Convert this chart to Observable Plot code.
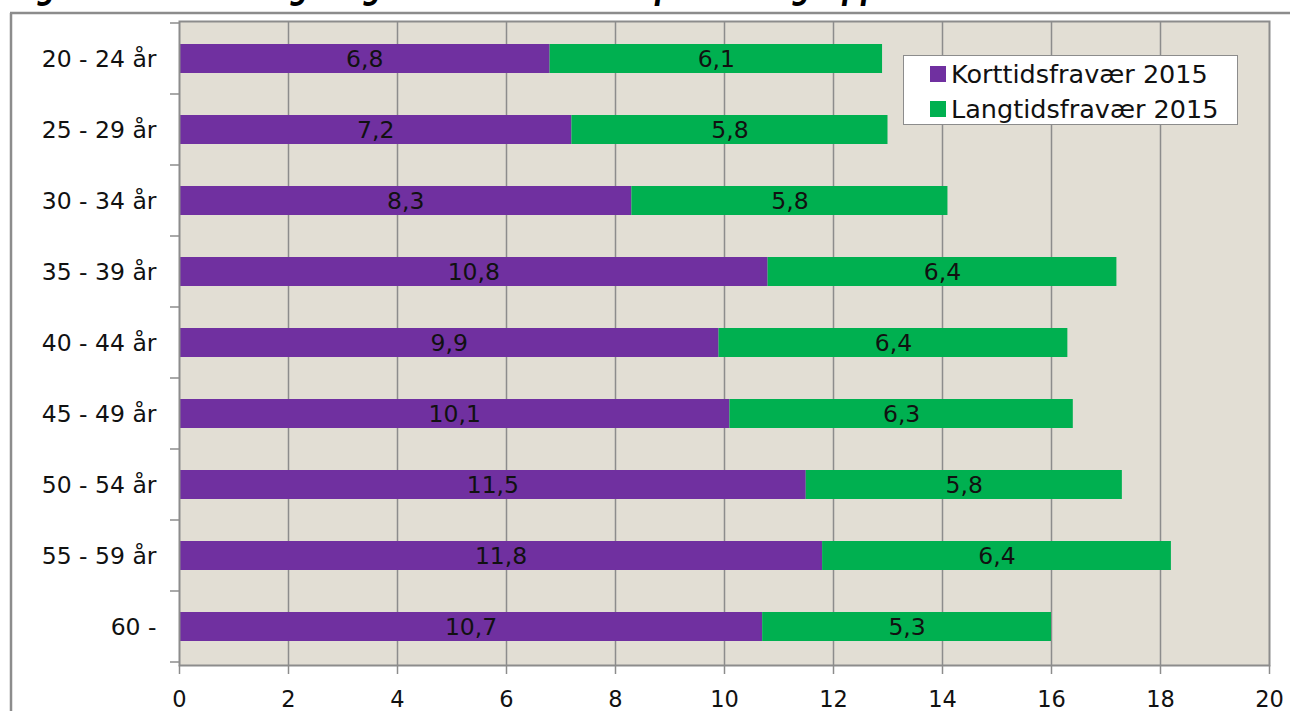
<!DOCTYPE html>
<html>
<head>
<meta charset="utf-8">
<script src="https://cdn.jsdelivr.net/npm/d3@7"></script>
<script src="https://cdn.jsdelivr.net/npm/@observablehq/plot@0.6"></script>
<style>
  body { margin: 0; background: #fff; }
  #wrap { position: relative; width: 1290px; height: 711px; overflow: hidden; font-family: "DejaVu Sans", sans-serif; }
  #legend { position: absolute; left: 903px; top: 55px; width: 333px; height: 68px; background: #fff; border: 1.5px solid #8c8c8c; }
  .lrow { position: absolute; left: 26px; height: 30px; display: flex; align-items: center; font-size: 25.5px; color: #111; white-space: nowrap; }
  .sw { width: 16px; height: 16px; margin-right: 5px; }
</style>
</head>
<body>
<div id="wrap"></div>
<script>
const title = "Figur 3: Korttids- og langtidsfravær fordelt på aldersgrupper";
const ageGroups = ["20 - 24 år", "25 - 29 år", "30 - 34 år", "35 - 39 år", "40 - 44 år", "45 - 49 år", "50 - 54 år", "55 - 59 år", "60 -"];
const shortTerm = [6.8, 7.2, 8.3, 10.8, 9.9, 10.1, 11.5, 11.8, 10.7];
const longTerm = [6.1, 5.8, 5.8, 6.4, 6.4, 6.3, 5.8, 6.4, 5.3];
const seriesNames = ["Korttidsfravær 2015", "Langtidsfravær 2015"];
const seriesColors = ["#7030a0", "#00b050"];
const xTicks = [0, 2, 4, 6, 8, 10, 12, 14, 16, 18, 20];

const rows = [];
ageGroups.forEach((age, i) => {
  rows.push({ age, series: seriesNames[0], value: shortTerm[i] });
  rows.push({ age, series: seriesNames[1], value: longTerm[i] });
});
const fmt = v => v.toFixed(1).replace(".", ",");
const grid = "#8c8c8c";

const chart = Plot.plot({
  width: 1290,
  height: 711,
  marginLeft: 179,
  marginRight: 21,
  marginTop: 21,
  marginBottom: 46,
  style: { fontFamily: "DejaVu Sans, sans-serif", fontSize: "22px", color: "#111", background: "transparent" },
  x: { domain: [0, 20], ticks: xTicks, label: null },
  y: { domain: ageGroups, paddingInner: 0.585, paddingOuter: 0.2925, label: null },
  color: { domain: seriesNames, range: seriesColors },
  marks: [
    Plot.frame({ fill: "#e2ded4", stroke: null }),
    Plot.ruleX(xTicks.filter(t => t > 0 && t < 20), { stroke: grid, strokeWidth: 1.5 }),
    Plot.barX(rows, { y: "age", x: "value", fill: "series" }),
    Plot.text(rows, Plot.stackX({ y: "age", x: "value", z: "series", text: d => fmt(d.value), fill: "#111", fontSize: 23.5 })),
    Plot.frame({ stroke: grid, strokeWidth: 2 }),
    Plot.axisX({ ticks: xTicks, tickSize: 9, tickPadding: 17, fontSize: 22.5, stroke: grid, strokeWidth: 1.5, tickFormat: d => String(d), label: null }),
    Plot.axisY({ tickSize: 0, tickPadding: 23, fontSize: 23.5, label: null })
  ]
});

document.getElementById("wrap").appendChild(chart);

// category boundary ticks (Excel style) from the library's y scale
const ys = chart.scale("y");
const svg = d3.select(chart);
const starts = ageGroups.map(a => ys.apply(a));
const step = starts[1] - starts[0];
const gap = (step - ys.bandwidth) / 2;
const bounds = starts.map(s => s - gap).concat([starts[starts.length - 1] + ys.bandwidth + gap]);
const x0 = chart.scale("x").apply(0);
svg.append("g").selectAll("line").data(bounds).join("line")
  .attr("x1", x0 - 9).attr("x2", x0).attr("y1", d => d).attr("y2", d => d)
  .attr("stroke", grid).attr("stroke-width", 1.5);

// outer chart border and clipped title (only its descenders show, as in the source)
svg.append("line").attr("x1", 11).attr("x2", 11).attr("y1", 13).attr("y2", 711).attr("stroke", grid).attr("stroke-width", 2.5);
svg.append("line").attr("x1", 10).attr("x2", 1290).attr("y1", 13).attr("y2", 13).attr("stroke", grid).attr("stroke-width", 2.5);
svg.append("text").attr("x", 10).attr("y", -1).attr("text-anchor", "start")
  .attr("font-size", 34).attr("font-weight", "bold").attr("font-style", "italic")
  .attr("textLength", 900).attr("lengthAdjust", "spacingAndGlyphs")
  .attr("fill", "#000").text(title);

// legend
const leg = document.createElement("div");
leg.id = "legend";
seriesNames.forEach((name, i) => {
  const r = document.createElement("div");
  r.className = "lrow";
  r.style.top = (i === 0 ? 3 : 38) + "px";
  const sw = document.createElement("span");
  sw.className = "sw";
  sw.style.background = seriesColors[i];
  r.appendChild(sw);
  r.appendChild(document.createTextNode(name));
  leg.appendChild(r);
});
document.getElementById("wrap").appendChild(leg);
</script>
</body>
</html>
